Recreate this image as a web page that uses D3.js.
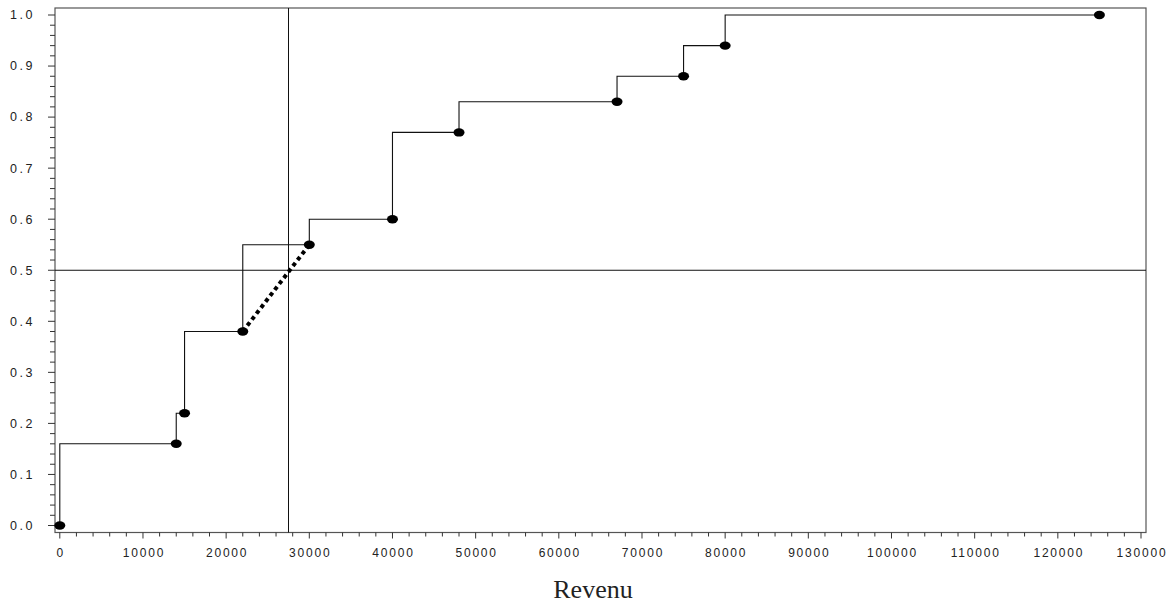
<!DOCTYPE html>
<html>
<head>
<meta charset="utf-8">
<script src="https://cdn.jsdelivr.net/npm/d3@7"></script>
<style>
body { margin: 0; background: #fff; }
svg text { fill: #222; }
</style>
</head>
<body>
<svg id="chart" width="1170" height="605"></svg>
<script>
// data
var revenu = [0, 14000, 15000, 22000, 30000, 40000, 48000, 67000, 75000, 80000, 125000];
var freq   = [0, 0.16, 0.22, 0.38, 0.55, 0.60, 0.77, 0.83, 0.88, 0.94, 1.0];
var interpFrom = 3, interpTo = 4;   // dotted segment between these points
var medianX = 27500, medianY = 0.5;
var xTicks = d3.range(0, 130001, 10000);
var yTicks = d3.range(0, 11).map(function(i){ return i / 10; });
var xLabel = "Revenu";

(function(){
    var svg = d3.select("#chart");
    var left = 55, right = 1146, top = 8, bottom = 532.5;

    var x = d3.scaleLinear().domain([0, 130000]).range([59.8, 1141]);
    var y = d3.scaleLinear().domain([0, 1]).range([525.5, 15]);

    var points = revenu.map(function(d, i){ return [d, freq[i]]; });

    // frame
    svg.append("rect")
        .attr("x", left).attr("y", top)
        .attr("width", right - left).attr("height", bottom - top)
        .attr("fill", "none").attr("stroke", "#555").attr("stroke-width", 1.2);

    // x axis ticks (major + minor)
    var xAxis = svg.append("g").attr("transform", "translate(0," + bottom + ")");
    xAxis.selectAll(".minor")
        .data(d3.range(0, 130001, 2000))
        .enter().append("line")
        .attr("x1", function(d){ return x(d); })
        .attr("x2", function(d){ return x(d); })
        .attr("y1", 0)
        .attr("y2", function(d){ return d % 10000 === 0 ? 6 : 4; })
        .attr("stroke", "#333");
    xAxis.selectAll("text")
        .data(xTicks)
        .enter().append("text")
        .attr("x", function(d){ return x(d) + 1; })
        .attr("y", 24)
        .attr("text-anchor", "middle")
        .style("font-family", "Liberation Sans, Arial, sans-serif")
        .style("font-size", "12px")
        .style("letter-spacing", "1.8px")
        .text(function(d){ return d; });

    // y axis ticks
    var yAxis = svg.append("g").attr("transform", "translate(" + left + ",0)");
    yAxis.selectAll("line")
        .data(d3.range(0, 51).map(function(i){ return i / 50; }))
        .enter().append("line")
        .attr("x1", function(d, i){ return i % 5 === 0 ? -7 : -5; })
        .attr("x2", 0)
        .attr("y1", function(d){ return y(d); })
        .attr("y2", function(d){ return y(d); })
        .attr("stroke", "#333");
    yAxis.selectAll("text")
        .data(yTicks)
        .enter().append("text")
        .attr("x", -20)
        .attr("y", function(d){ return y(d); })
        .attr("dy", "0.35em")
        .attr("text-anchor", "end")
        .style("font-family", "Liberation Sans, Arial, sans-serif")
        .style("font-size", "12.5px")
        .style("letter-spacing", "2.5px")
        .text(function(d){ return d3.format(".1f")(d); });

    // median crosshair
    svg.append("line")
        .attr("x1", x(medianX)).attr("x2", x(medianX))
        .attr("y1", top).attr("y2", bottom)
        .attr("stroke", "#111").attr("stroke-width", 1);
    svg.append("line")
        .attr("x1", left).attr("x2", right)
        .attr("y1", y(medianY)).attr("y2", y(medianY))
        .attr("stroke", "#111").attr("stroke-width", 1);

    // cumulative step line
    var step = d3.line()
        .x(function(d){ return x(d[0]); })
        .y(function(d){ return y(d[1]); })
        .curve(d3.curveStepBefore);
    svg.append("path")
        .attr("d", step(points))
        .attr("fill", "none")
        .attr("stroke", "#111")
        .attr("stroke-width", 1.1);

    // interpolation segment
    svg.append("line")
        .attr("x1", x(points[interpFrom][0])).attr("y1", y(points[interpFrom][1]))
        .attr("x2", x(points[interpTo][0])).attr("y2", y(points[interpTo][1]))
        .attr("stroke", "#000")
        .attr("stroke-width", 4)
        .attr("stroke-dasharray", "4,3.5");

    // markers
    svg.selectAll(".pt")
        .data(points)
        .enter().append("ellipse")
        .attr("class", "pt")
        .attr("cx", function(d){ return x(d[0]); })
        .attr("cy", function(d){ return y(d[1]); })
        .attr("rx", 5.5).attr("ry", 4.2)
        .attr("fill", "#000");

    // axis title
    svg.append("text")
        .attr("x", 593)
        .attr("y", 598)
        .attr("text-anchor", "middle")
        .style("font-family", "Liberation Serif, Times New Roman, serif")
        .style("font-size", "26px")
        .text(xLabel);
})();
</script>
</body>
</html>
